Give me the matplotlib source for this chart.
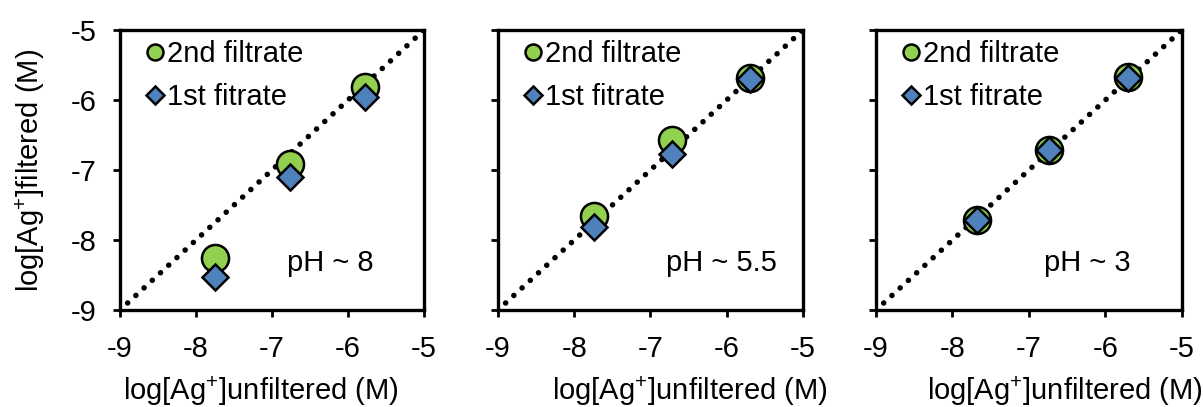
import matplotlib
matplotlib.use("Agg")
import matplotlib.pyplot as plt
from matplotlib.lines import Line2D

plt.rcParams["font.family"] = ["Liberation Sans", "DejaVu Sans"]
plt.rcParams["mathtext.fontset"] = "custom"
plt.rcParams["mathtext.rm"] = "Liberation Sans"
plt.rcParams["mathtext.it"] = "Liberation Sans:italic"
plt.rcParams["mathtext.bf"] = "Liberation Sans:bold"

# log[Ag+] before filtering vs. after, one panel per pH
panel_labels = ["pH ~ 8", "pH ~ 5.5", "pH ~ 3"]
unfiltered = [
    [-7.75, -6.76, -5.78],
    [-7.74, -6.72, -5.69],
    [-7.68, -6.74, -5.70],
]
second_filtrate = [
    [-8.26, -6.91, -5.81],
    [-7.66, -6.57, -5.68],
    [-7.71, -6.71, -5.67],
]
first_filtrate = [
    [-8.53, -7.10, -5.96],
    [-7.81, -6.77, -5.70],
    [-7.71, -6.71, -5.68],
]
ticks = [-9, -8, -7, -6, -5]

GREEN = "#92D050"
BLUE = "#4F81BD"
FS = 21

fig = plt.figure(figsize=(12.04, 4.07), dpi=100)
lefts = [0.0997, 0.4136, 0.7276]
widths = [0.2525, 0.2533, 0.254]
xlabel_x = [0.2168, 0.573, 0.8846]

for i, left in enumerate(lefts):
    ax = fig.add_axes([left, 0.2383, widths[i], 0.688])
    ax.set_xlim(-9, -5)
    ax.set_ylim(-9, -5)

    # 1:1 reference line
    ax.plot([-8.9, -5.0], [-8.9, -5.0], color="black", lw=4.0,
            linestyle=(0, (0.01, 2.0)), dash_capstyle="round", zorder=1)

    ax.plot(unfiltered[i], second_filtrate[i], "o", ms=19.5, mfc=GREEN,
            mec="black", mew=1.8, zorder=3, clip_on=False)
    ax.plot(unfiltered[i], first_filtrate[i], "D", ms=13, mfc=BLUE,
            mec="black", mew=1.8, zorder=4, clip_on=False)

    ax.text(-6.8, -8.33, panel_labels[i], fontsize=FS, va="center", ha="left")

    handles = [
        Line2D([], [], marker="o", ls="none", ms=11.5, mfc=GREEN, mec="black", mew=1.8),
        Line2D([], [], marker="D", ls="none", ms=9, mfc=BLUE, mec="black", mew=1.8),
    ]
    ax.legend(handles, ["2nd filtrate", "1st fitrate"], loc="upper left",
              bbox_to_anchor=(0.03, 1.025), frameon=False, fontsize=FS,
              handlelength=0.55, handletextpad=0.15, labelspacing=0.5,
              borderaxespad=0.2)

    ax.set_xticks(ticks)
    ax.set_yticks(ticks)
    ax.set_xticklabels([str(t) for t in ticks])
    if i == 0:
        ax.set_yticklabels([str(t) for t in ticks])
        ax.set_ylabel(r"log[Ag$^{\mathrm{+}}$]filtered (M)", fontsize=FS, labelpad=17)
    else:
        ax.set_yticklabels([])

    ax.tick_params(direction="out", length=5, width=2, labelsize=FS, pad=13)
    ax.tick_params(axis="y", pad=12)
    for sp in ax.spines.values():
        sp.set_linewidth(2.4)

    fig.text(xlabel_x[i], 0.018, r"log[Ag$^{\mathrm{+}}$]unfiltered (M)",
             fontsize=FS, ha="center", va="baseline")

fig.savefig("out.png", dpi=100)
